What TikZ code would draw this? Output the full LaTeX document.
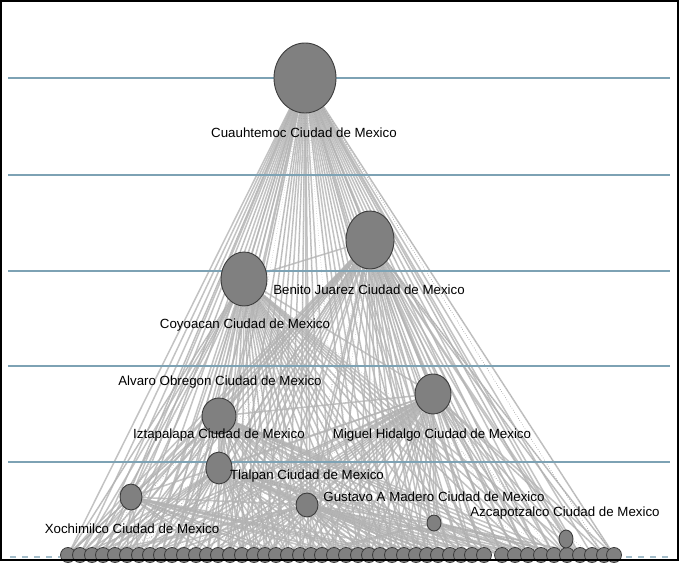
\documentclass[tikz,border=0pt]{standalone}
\usepackage{fontspec}
\setmainfont{Liberation Sans}
\usetikzlibrary{shapes.geometric,backgrounds}
\definecolor{gridblue}{HTML}{7DA2B4}
\definecolor{nodefill}{HTML}{808080}
\definecolor{nodeline}{HTML}{3C3C3C}
\definecolor{edgegray}{HTML}{B4B4B4}
\tikzset{
  bignode/.style={ellipse, fill=nodefill, draw=nodeline, line width=0.9pt, inner sep=0pt},
  smallnode/.style={circle, fill=nodefill, draw=nodeline, line width=0.8pt, inner sep=0pt, minimum size=15pt},
  lbl/.style={font=\fontsize{13.3}{15}\selectfont, inner sep=0pt, text=black},
  edge/.style={draw=edgegray, line width=1.5pt, opacity=0.8},
  thinedge/.style={draw=gray!75, line width=0.45pt, dotted},
  level/.style={draw=gridblue, line width=1.2pt},
  levdash/.style={draw=gridblue!70, line width=1.2pt, dash pattern=on 6pt off 6pt},
}
\begin{document}
\begin{tikzpicture}[x=1pt,y=-1pt]
\useasboundingbox (0,0) rectangle (680,580);
% bottom nodes
\foreach \xx [count=\i] in {68,80,92,103,115,127,139,150,161,172,184,196,207,218,230,242,254,265,276,288,300,311,322,334,346,358,369,380,392,404,416,427,438,450,461,472,484,502,515,528,541,554,567,580,592,604,614} {
  \node[smallnode] (b\i) at (\xx,555) {};
}
% major nodes
\node[bignode, minimum width=62pt, minimum height=70pt] (cu) at (305,78) {};
\node[bignode, minimum width=48pt, minimum height=58pt] (bj) at (370,240) {};
\node[bignode, minimum width=46pt, minimum height=54pt] (co) at (244,279) {};
\node[bignode, minimum width=36pt, minimum height=40pt] (mh) at (433,394) {};
\node[bignode, minimum width=34pt, minimum height=36pt] (iz) at (219,416) {};
\node[bignode, minimum width=26pt, minimum height=32pt] (tl) at (219,468) {};
\node[bignode, minimum width=22pt, minimum height=26pt] (xo) at (131,497) {};
\node[bignode, minimum width=22pt, minimum height=24pt] (gm) at (307,505) {};
\node[bignode, minimum width=14pt, minimum height=16pt] (sm) at (434,523) {};
\node[bignode, minimum width=14pt, minimum height=18pt] (az) at (566,539) {};
% labels
\node[lbl] (lcu) at (304,133) {Cuauhtemoc Ciudad de Mexico};
\node[lbl] (lbj) at (369,290) {Benito Juarez Ciudad de Mexico};
\node[lbl] (lco) at (245,325) {Coyoacan Ciudad de Mexico};
\node[lbl] (lao) at (220,382) {Alvaro Obregon Ciudad de Mexico};
\node[lbl] (liz) at (219,435) {Iztapalapa Ciudad de Mexico};
\node[lbl] (lmh) at (432,435) {Miguel Hidalgo Ciudad de Mexico};
\node[lbl] (ltl) at (307,476) {Tlalpan Ciudad de Mexico};
\node[lbl] (lgm) at (434,497) {Gustavo A Madero Ciudad de Mexico};
\node[lbl] (lxo) at (132,529) {Xochimilco Ciudad de Mexico};
\node[lbl] (laz) at (565,513) {Azcapotzalco Ciudad de Mexico};
\begin{scope}[on background layer]
\fill[white] (0,0) rectangle (680,580);
\pgfmathsetseed{11}
% fan edges from major nodes to bottom row
\foreach \m/\p/\lo/\hi in {cu/0.85/1/47, bj/0.8/1/47, co/0.8/1/45, mh/0.65/1/47, iz/0.6/1/44, tl/0.55/1/44, xo/0.45/1/34, gm/0.55/1/45, sm/0.35/20/46} {
  \foreach \i in {\lo,...,\hi} {
    \pgfmathsetmacro{\r}{rnd}
    \ifdim\r pt<\p pt \draw[edge] (\m) -- (b\i); \fi
    \pgfmathsetmacro{\s}{rnd}
    \ifdim\s pt<0.4pt \draw[thinedge] (\m) -- (b\i); \fi
  }
}
% edges among major nodes
\foreach \a/\b in {cu/bj,cu/co,cu/mh,cu/iz,cu/tl,cu/xo,cu/gm,cu/sm,cu/az,bj/co,bj/mh,bj/iz,bj/tl,bj/xo,bj/gm,bj/az,co/mh,co/iz,co/tl,co/xo,co/gm,co/sm,mh/iz,mh/tl,mh/xo,mh/gm,iz/tl,iz/gm,tl/gm,xo/gm,mh/sm,gm/sm}
  \draw[edge] (\a) -- (\b);
\draw[thinedge] (cu) -- (b46);
\draw[thinedge] (cu) -- (b47);
\draw[thinedge] (bj) -- (b47);
% level lines
\foreach \yy [count=\k] in {78,175,271,366,462} {
  \coordinate (gl\k) at (8,\yy); \coordinate (gr\k) at (670,\yy);
  \draw[level] (gl\k) -- (gr\k);
}
\coordinate (dl1) at (10,557); \coordinate (dl2) at (60,557);
\coordinate (dr1) at (626,557); \coordinate (dr2) at (672,557);
\draw[levdash] (dl1) -- (dl2);
\draw[levdash] (dr1) -- (dr2);
\end{scope}
% frame
\coordinate (f1) at (1,1); \coordinate (f2) at (678,560);
\draw[black, line width=1.4pt] (f1) rectangle (f2);
\end{tikzpicture}
\end{document}
